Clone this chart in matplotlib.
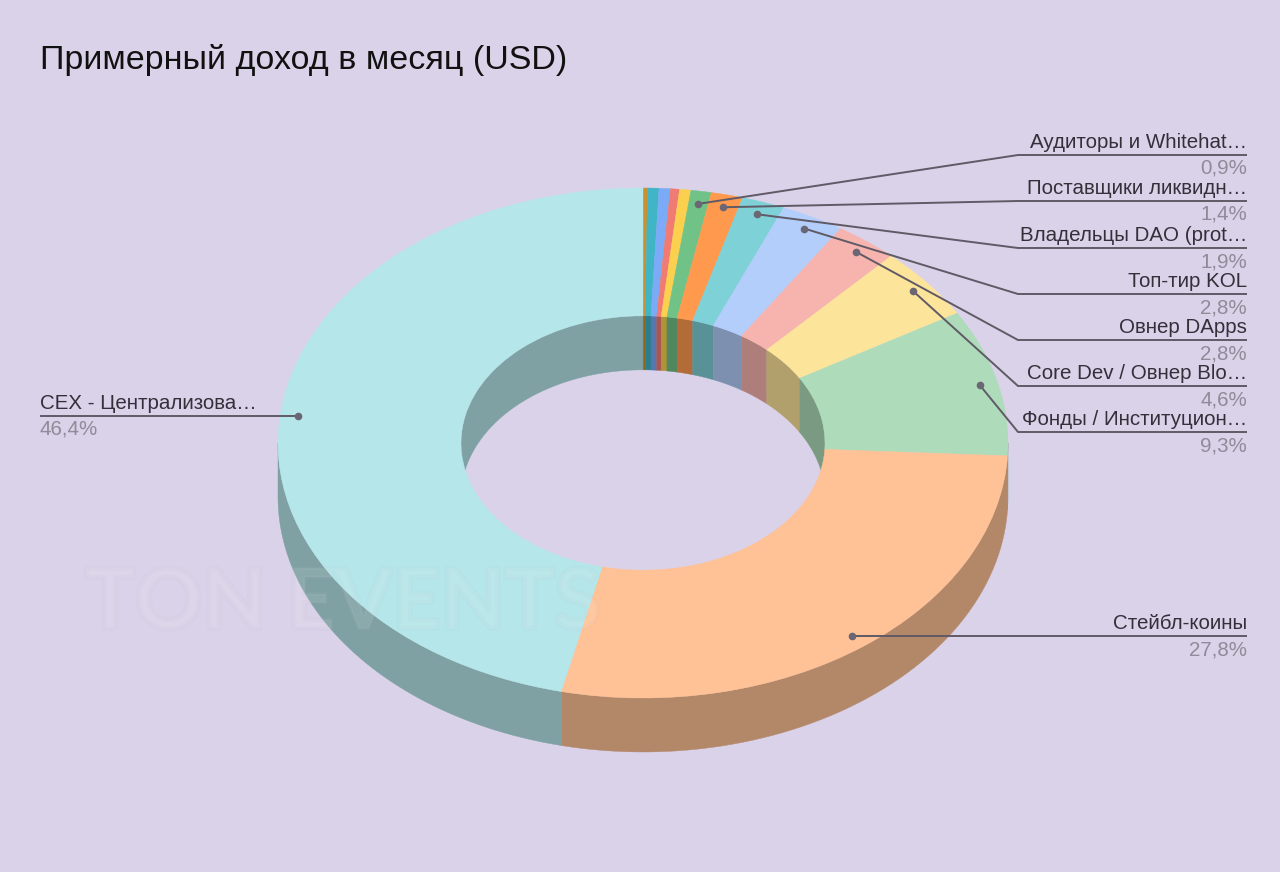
import numpy as np
import matplotlib
matplotlib.use("Agg")
import matplotlib.pyplot as plt
from matplotlib.patches import Wedge, Polygon
from matplotlib.colors import to_rgb
import matplotlib.patheffects as pe

# --- data ---
slice_names = ["Прочие 1", "Прочие 2", "Прочие 3", "Прочие 4", "Прочие 5",
               "Аудиторы и Whitehat…", "Поставщики ликвидн…", "Владельцы DAO (prot…",
               "Топ-тир KOL", "Овнер DApps", "Core Dev / Овнер Blo…",
               "Фонды / Институцион…", "Стейбл-коины", "CEX - Централизова…"]
slice_values = [0.2, 0.5, 0.5, 0.4, 0.5, 0.9, 1.4, 1.9, 2.8, 2.8, 4.6, 9.3, 27.8, 46.4]
slice_colors = ["#c9912f", "#3fb5c5", "#7baaf7", "#f07b72", "#fcd04f", "#71c287", "#ff994e",
                "#7ed1d7", "#b3cefb", "#f7b4ae", "#fde49b", "#aedcba", "#ffc296", "#b5e6ea"]
percent_labels = ["", "", "", "", "", "0,9%", "1,4%", "1,9%", "2,8%", "2,8%", "4,6%", "9,3%", "27,8%", "46,4%"]
title_text = "Примерный доход в месяц (USD)"
watermark_text = "TON EVENTS"

# --- layout (pixels in the 1280x872 canvas) ---
W, H = 1280, 872
CX, CY, RX, RY, DEPTH = 643.0, 443.0, 365.0, 255.0, 54.0
HOLE = 0.4986
DOT_R = 0.95
BG = "#dad2e9"
LINE = "#5f5a66"
TXT = "#33303a"
GREY = "#8f8b98"
FONT = "Liberation Sans"
right_line_y = {5: 155, 6: 201, 7: 248, 8: 294, 9: 340, 10: 386, 11: 432}
ELBOW_X, RIGHT_X, LEFT_X = 1018, 1247, 40

fig = plt.figure(figsize=(W / 100, H / 100), dpi=100, facecolor=BG)
ax = fig.add_axes([0, 0, 1, 1])
# one data unit = the outer radius of the pie, separately in x and y
ax.set_xlim(-CX / RX, (W - CX) / RX)
ax.set_ylim(-(H - CY) / RY, CY / RY)
ax.axis("off")
d = DEPTH / RY


def px(x, y):
    return (x - CX) / RX, (CY - y) / RY


def dark(c, f=0.7):
    return tuple(v * f for v in to_rgb(c))


fracs = np.array(slice_values) / np.sum(slice_values) * 360.0
ends = np.cumsum(fracs)
starts = ends - fracs


def wall(a, b, r, col):
    if b <= a:
        return
    t = np.radians(np.linspace(a, b, 60))
    x, y = r * np.sin(t), r * np.cos(t)
    pts = np.r_[np.c_[x, y], np.c_[x, y - d][::-1]]
    ax.add_patch(Polygon(pts, closed=True, fc=col, ec=col, lw=0.3, zorder=1))


for s, e, c in zip(starts, ends, slice_colors):
    col = dark(c)
    # inner wall: back half of the hole
    wall(s, min(e, 90), HOLE, col)
    wall(max(s, 270), e, HOLE, col)
    # outer wall: front half of the ring
    wall(max(s, 90), min(e, 270), 1.0, col)

for s, e, c in zip(starts, ends, slice_colors):
    ax.add_patch(Wedge((0, 0), 1.0, 90 - e, 90 - s, width=1 - HOLE, fc=c, ec=c, lw=0.3, zorder=2))


# watermark
wm = ax.text(*px(343, 605), watermark_text, ha="center", va="center", fontsize=60, family="Lato",
             fontweight="bold", color=(1, 1, 1, 0.035), zorder=3)
wm.set_path_effects([pe.Stroke(linewidth=3.5, foreground=(0.55, 0.55, 0.62, 0.04)),
                     pe.Stroke(linewidth=2.5, foreground=(1, 1, 1, 0.04)),
                     pe.Normal()])

# leaders and labels
for i, name in enumerate(slice_names):
    if not percent_labels[i]:
        continue
    mid = np.radians((starts[i] + ends[i]) / 2)
    dx, dy = DOT_R * np.sin(mid), DOT_R * np.cos(mid)
    if i in right_line_y:
        ly = right_line_y[i]
        path = [(dx, dy), px(ELBOW_X, ly), px(RIGHT_X, ly)]
        tx, ha = RIGHT_X, "right"
    elif np.sin(mid) > 0:
        ly = CY - dy * RY
        path = [(dx, dy), px(RIGHT_X, ly)]
        tx, ha = RIGHT_X, "right"
    else:
        ly = CY - dy * RY
        path = [(dx, dy), px(LEFT_X, ly)]
        tx, ha = LEFT_X, "left"
    xs, ys = zip(*path)
    ax.plot(xs, ys, color=LINE, lw=1.4, zorder=4, solid_capstyle="butt")
    ax.plot([dx], [dy], "o", ms=5.5, color="#6b6673", mew=0, zorder=5)
    ax.text(*px(tx, ly - 3), name, ha=ha, va="bottom", fontsize=14.75, family=FONT, color=TXT, zorder=6)
    ax.text(*px(tx, ly + 4), percent_labels[i], ha=ha, va="top", fontsize=14.75, family=FONT, color=GREY, zorder=6)

ax.text(*px(LEFT_X, 60), title_text, ha="left", va="center", fontsize=24.5, family=FONT, color="#111111", zorder=6)

fig.savefig("out.png", dpi=100, facecolor=BG)
